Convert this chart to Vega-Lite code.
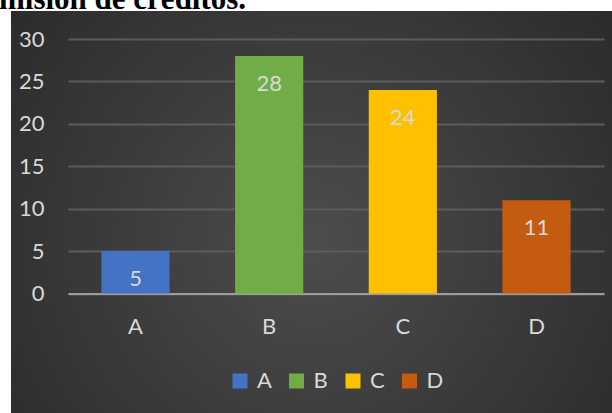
{
  "$schema": "https://vega.github.io/schema/vega-lite/v6.json",
  "width": 601,
  "height": 402,
  "autosize": "none",
  "padding": {"left": 11, "top": 11, "right": 0, "bottom": 0},
  "background": "white",
  "title": {
    "text": "misión de créditos.",
    "anchor": "start",
    "orient": "top",
    "font": "Liberation Serif",
    "fontSize": 31,
    "fontWeight": "bold",
    "color": "black",
    "baseline": "alphabetic",
    "offset": -29,
    "dx": -12
  },
  "data": {
    "values": [
      {"categoria": "A", "valor": 5},
      {"categoria": "B", "valor": 28},
      {"categoria": "C", "valor": 24},
      {"categoria": "D", "valor": 11}
    ]
  },
  "encoding": {
    "x": {
      "field": "categoria",
      "type": "nominal",
      "scale": {"range": [57, 593], "paddingInner": 0.49, "paddingOuter": 0.25},
      "axis": {
        "title": null,
        "orient": "bottom",
        "offset": -119.5,
        "labelAngle": 0,
        "ticks": false,
        "tickSize": 0,
        "labelPadding": 23,
        "labelFont": "Lato",
        "labelFontSize": 22,
        "labelColor": "#d9d9d9",
        "domainColor": "#9c9c9c",
        "domainWidth": 2,
        "grid": false
      }
    },
    "y": {
      "field": "valor",
      "type": "quantitative",
      "scale": {"domain": [0, 30], "range": [282.5, 28], "nice": false},
      "axis": {
        "title": null,
        "values": [0, 5, 10, 15, 20, 25, 30],
        "offset": -38,
        "ticks": false,
        "tickSize": 0,
        "labelPadding": 5,
        "labelFont": "Lato",
        "labelFontSize": 22,
        "labelColor": "#d9d9d9",
        "domain": false,
        "grid": true,
        "gridColor": "#5c5c5c",
        "gridWidth": 2
      }
    }
  },
  "layer": [
    {
      "mark": {"type": "bar"},
      "encoding": {
        "color": {
          "field": "categoria",
          "type": "nominal",
          "scale": {"domain": ["A", "B", "C", "D"], "range": ["#4472C4", "#70AD47", "#FFC000", "#C55A11"]},
          "legend": {
            "title": null,
            "orient": "none",
            "direction": "horizontal",
            "legendX": 218,
            "legendY": 359,
            "symbolType": "square",
            "symbolSize": 225,
            "symbolStrokeWidth": 0,
            "symbolOpacity": 1,
            "labelFont": "Lato",
            "labelFontSize": 22,
            "labelColor": "#d9d9d9",
            "labelOffset": 6,
            "columnPadding": 13.5
          }
        }
      }
    },
    {
      "mark": {
        "type": "text",
        "baseline": "alphabetic",
        "dy": 35,
        "font": "Lato",
        "fontSize": 22,
        "color": "#d9d9d9"
      },
      "encoding": {
        "text": {"field": "valor", "type": "quantitative"}
      }
    }
  ],
  "config": {
    "view": {
      "stroke": null,
      "fill": {
        "gradient": "radial",
        "x1": 0.5, "y1": 0.55, "r1": 0,
        "x2": 0.5, "y2": 0.55, "r2": 0.75,
        "stops": [
          {"offset": 0, "color": "#4d4d4d"},
          {"offset": 1, "color": "#252525"}
        ]
      }
    }
  }
}
